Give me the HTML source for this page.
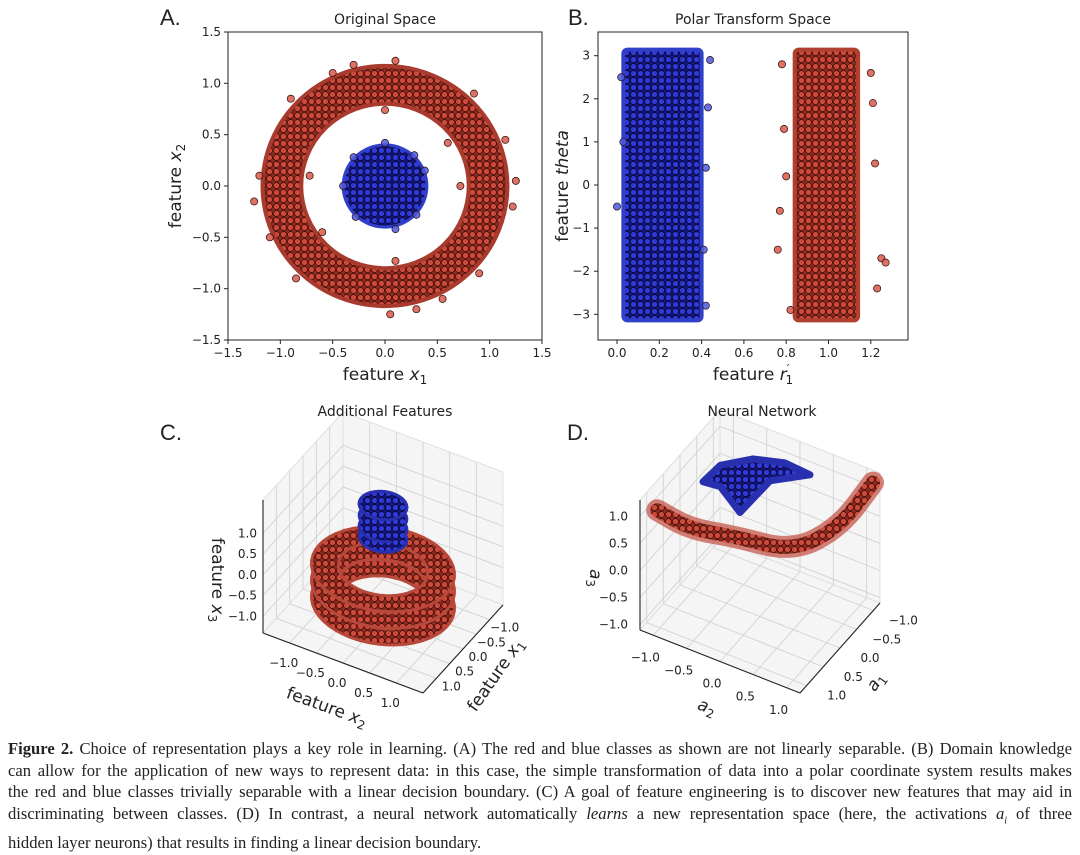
<!DOCTYPE html>
<html><head><meta charset="utf-8">
<style>
body{margin:0;background:#fff;}
#wrap{position:relative;width:1080px;height:855px;overflow:hidden;background:#fff;}
svg{position:absolute;left:0;top:0;}
#cap{position:absolute;left:8px;top:738px;width:1064px;font-family:"Liberation Serif",serif;font-size:16.6px;line-height:21.6px;color:#222;}
#cap div{text-align:justify;text-align-last:justify;white-space:nowrap;}
#cap div.last{text-align-last:left;}
</style></head>
<body>
<div id="wrap">
<svg id="fig" width="1080" height="738" viewBox="0 0 1080 738" font-family="DejaVu Sans, Liberation Sans, sans-serif">
<defs>
<pattern id="redPat" width="7" height="7" patternUnits="userSpaceOnUse">
<rect width="7" height="7" fill="#8e2a20"/>
<circle cx="3.5" cy="3.5" r="3" fill="#cf4a3b" stroke="#3a0e08" stroke-width="0.7"/>
</pattern>
<pattern id="bluePat" width="7" height="7" patternUnits="userSpaceOnUse">
<rect width="7" height="7" fill="#15157f"/>
<circle cx="3.5" cy="3.5" r="3" fill="#2f3ad8" stroke="#08082e" stroke-width="0.7"/>
</pattern>
</defs>
</svg>
<div id="cap">
<div><b>Figure 2.</b> Choice of representation plays a key role in learning. (A) The red and blue classes as shown are not linearly separable. (B) Domain knowledge</div>
<div>can allow for the application of new ways to represent data: in this case, the simple transformation of data into a polar coordinate system results makes</div>
<div>the red and blue classes trivially separable with a linear decision boundary. (C) A goal of feature engineering is to discover new features that may aid in</div>
<div>discriminating between classes. (D) In contrast, a neural network automatically <i>learns</i> a new representation space (here, the activations <i>a<sub style="font-size:10px">i</sub></i> of three</div>
<div class="last">hidden layer neurons) that results in finding a linear decision boundary.</div>
</div>
</div>
<script>
// ---------- data ----------
const aTicks=[-1.5,-1.0,-0.5,0.0,0.5,1.0,1.5];
const aTickLabels=["−1.5","−1.0","−0.5","0.0","0.5","1.0","1.5"];
const ringRadiiA=[0.8,1.17];
const blueRadiusA=[0.4];
const redOutA_x=[1.25,1.22,-1.2,-1.25,0.1,-0.3,0.05,0.3,-0.9,0.85,0.9,-0.85,0.72,-0.72,0,0.1,1.15,-1.1,0.55,-0.5,-0.6,0.6];
const redOutA_y=[0.05,-0.2,0.1,-0.15,1.22,1.18,-1.25,-1.2,0.85,0.9,-0.85,-0.9,0.0,0.1,0.74,-0.73,0.45,-0.5,-1.1,1.1,-0.45,0.42];
const blueOutA_x=[0.38,-0.4,0,0.1,-0.28,0.3,-0.3,0.28];
const blueOutA_y=[0.15,0,0.42,-0.42,-0.3,-0.28,0.28,0.3];

const bXTicks=[0.0,0.2,0.4,0.6,0.8,1.0,1.2];
const bXLabels=["0.0","0.2","0.4","0.6","0.8","1.0","1.2"];
const bYTicks=[3,2,1,0,-1,-2,-3];
const bYLabels=["3","2","1","0","−1","−2","−3"];
const blueBandB=[0.03,0.4];
const redBandB=[0.84,1.14];
const thetaRange=[-3.14,3.14];
const blueOutB_r=[0.02,0.43,0.41,0.0,0.44,0.42,0.03,0.42];
const blueOutB_t=[2.5,1.8,-1.5,-0.5,2.9,0.4,1.0,-2.8];
const redOutB_r=[0.78,0.76,1.25,1.27,1.22,0.8,1.2,0.82,1.23,0.79,1.21,0.77];
const redOutB_t=[2.8,-1.5,-1.7,-1.8,0.5,0.2,2.6,-2.9,-2.4,1.3,1.9,-0.6];

const c3Ticks=[-1.0,-0.5,0.0,0.5,1.0];
const c3Labels=["−1.0","−0.5","0.0","0.5","1.0"];
const ringRadiiC=[0.75,1.2];
const ringZC=[-1.0,-0.6,-0.2];
const blueRadiusC=[0.4];
const blueZC=[0.55,0.8,1.05,1.33];

const redCurveD_a1=[1.0,0.74,0.44,0.175,-0.36,-1.17];
const redCurveD_a2=[-1.04,-0.68,-0.185,0.58,1.02,1.11];
const redCurveD_a3=[1.05,0.7,0.6,0.5,0.8,1.1];
const blueCapD_a1=[0.35,-0.11,-0.49,-0.66,-0.62,-0.19,0.24,0.31];
const blueCapD_a2=[-0.68,-0.65,-0.35,0.04,0.44,0.055,-0.18,-0.44];
const blueCapD_a3=[1.3,1.3,1.3,1.3,1.3,1.3,0.9,1.3];

// ---------- helpers ----------
const NS="http://www.w3.org/2000/svg";
const svg=document.getElementById('fig');
function mk(tag,attrs,parent){const e=document.createElementNS(NS,tag);for(const k in attrs)e.setAttribute(k,attrs[k]);(parent||svg).appendChild(e);return e;}
function txt(s,x,y,size,anchor,parent,rot){const t=mk('text',{x:x,y:y,'font-size':size,'text-anchor':anchor||'middle',fill:'#222'},parent);if(rot!==undefined)t.setAttribute('transform','rotate('+rot+' '+x+' '+y+')');t.textContent=s;return t;}
function dot(x,y,fill,parent){const c=mk('circle',{cx:x,cy:y,r:3.6,fill:fill,'fill-opacity':0.85,stroke:'#2a0c08','stroke-width':0.7},parent);return c;}

// ---------- Panel A ----------
const gA=mk('g',{});


const ax=v=>385+v*104.67, ay=v=>186-v*102.67;
let t=txt('A.',160,25,22,'start',gA);t.setAttribute('font-family','Liberation Sans, sans-serif');

t=txt('Original Space',385,24,14,'middle',gA);

{const ro=ringRadiiA[1],ri=ringRadiiA[0];
const d=`M${ax(ro)},${ay(0)} A${ro*104.67},${ro*102.67} 0 1 0 ${ax(-ro)},${ay(0)} A${ro*104.67},${ro*102.67} 0 1 0 ${ax(ro)},${ay(0)} Z M${ax(ri)},${ay(0)} A${ri*104.67},${ri*102.67} 0 1 1 ${ax(-ri)},${ay(0)} A${ri*104.67},${ri*102.67} 0 1 1 ${ax(ri)},${ay(0)} Z`;
const p=mk('path',{d:d,fill:'url(#redPat)','fill-rule':'evenodd',stroke:'#a83a2e','stroke-width':4},gA);
}
{const r=blueRadiusA[0];const e=mk('ellipse',{cx:ax(0),cy:ay(0),rx:r*104.67,ry:r*102.67,fill:'url(#bluePat)',stroke:'#3040c8','stroke-width':3},gA);
}
redOutA_x.forEach((x,i)=>{const c=dot(ax(x),ay(redOutA_y[i]),'#d9574a',gA);
});
blueOutA_x.forEach((x,i)=>{const c=dot(ax(x),ay(blueOutA_y[i]),'#4a58e0',gA);
});
{const r=mk('rect',{x:ax(-1.5),y:ay(1.5),width:ax(1.5)-ax(-1.5),height:ay(-1.5)-ay(1.5),fill:'none',stroke:'#222','stroke-width':1},gA);
}
aTicks.forEach((v,i)=>{
 mk('line',{x1:ax(v),x2:ax(v),y1:ay(-1.5),y2:ay(-1.5)+4,stroke:'#222'},gA);
 let l=txt(aTickLabels[i],ax(v),ay(-1.5)+17,12,'middle',gA);
 
 mk('line',{x1:ax(-1.5)-4,x2:ax(-1.5),y1:ay(v),y2:ay(v),stroke:'#222'},gA);
 l=txt(aTickLabels[i],ax(-1.5)-7,ay(v)+4,12,'end',gA);
 
});
t=mk('text',{x:385,y:380,'font-size':17,'text-anchor':'middle',fill:'#222'},gA);
t.innerHTML='feature <tspan font-style="italic">x</tspan><tspan font-size="12" dy="4">1</tspan>';

t=mk('text',{x:181,y:186,'font-size':17,'text-anchor':'middle',fill:'#222',transform:'rotate(-90 181 186)'},gA);
t.innerHTML='feature <tspan font-style="italic">x</tspan><tspan font-size="12" dy="4">2</tspan>';


// ---------- Panel B ----------
const gB=mk('g',{});


const bx=v=>617+v*211.5, by=v=>185-v*43.1;
t=txt('B.',568,25,22,'start',gB);t.setAttribute('font-family','Liberation Sans, sans-serif');

t=txt('Polar Transform Space',753,24,14,'middle',gB);

{const r=mk('rect',{x:bx(blueBandB[0]),y:by(thetaRange[1]),width:bx(blueBandB[1])-bx(blueBandB[0]),height:by(thetaRange[0])-by(thetaRange[1]),fill:'url(#bluePat)',stroke:'#3040c8','stroke-width':4,rx:4},gB);
}
{const r=mk('rect',{x:bx(redBandB[0]),y:by(thetaRange[1]),width:bx(redBandB[1])-bx(redBandB[0]),height:by(thetaRange[0])-by(thetaRange[1]),fill:'url(#redPat)',stroke:'#b0402f','stroke-width':4,rx:4},gB);
}
blueOutB_r.forEach((r,i)=>{const c=dot(bx(r),by(blueOutB_t[i]),'#4a58e0',gB);
});
redOutB_r.forEach((r,i)=>{const c=dot(bx(r),by(redOutB_t[i]),'#d9574a',gB);
});
{const r=mk('rect',{x:598,y:32,width:310,height:308,fill:'none',stroke:'#222','stroke-width':1},gB);
}
bXTicks.forEach((v,i)=>{
 mk('line',{x1:bx(v),x2:bx(v),y1:340,y2:344,stroke:'#222'},gB);
 const l=txt(bXLabels[i],bx(v),357,12,'middle',gB);
 });
bYTicks.forEach((v,i)=>{
 mk('line',{x1:594,x2:598,y1:by(v),y2:by(v),stroke:'#222'},gB);
 const l=txt(bYLabels[i],590,by(v)+4,12,'end',gB);
 });
t=mk('text',{x:753,y:380,'font-size':17,'text-anchor':'middle',fill:'#222'},gB);
t.innerHTML='feature <tspan font-style="italic">r</tspan><tspan font-size="12" dy="-7">′</tspan><tspan font-size="12" dx="-4" dy="11">1</tspan>';

t=mk('text',{x:568,y:186,'font-size':17,'text-anchor':'middle',fill:'#222',transform:'rotate(-90 568 186)'},gB);
t.innerHTML='feature <tspan font-style="italic">theta</tspan>';


// ---------- 3D helper ----------
function make3D(cfg){
 return function(a,b,z){
  const s=(b-cfg.bMin)/(cfg.bMax-cfg.bMin), tt=(cfg.aMax-a)/(cfg.aMax-cfg.aMin), u=(z-cfg.zMin)/(cfg.zMax-cfg.zMin);
  return [cfg.o[0]+cfg.ex[0]*s+cfg.ey[0]*tt+cfg.ez[0]*u, cfg.o[1]+cfg.ex[1]*s+cfg.ey[1]*tt+cfg.ez[1]*u];
 };
}
function draw3DFrame(P,cfg,g){
 const {aMin,aMax,bMin,bMax,zMin,zMax}=cfg;
 const pane=(pts,name)=>{const p=mk('polygon',{points:pts.map(q=>q.join(',')).join(' '),fill:'#f5f5f5',stroke:'#e0e0e0'},g);
  };
 pane([P(aMax,bMin,zMin),P(aMin,bMin,zMin),P(aMin,bMin,zMax),P(aMax,bMin,zMax)],'left-pane');
 pane([P(aMin,bMin,zMin),P(aMin,bMax,zMin),P(aMin,bMax,zMax),P(aMin,bMin,zMax)],'back-pane');
 pane([P(aMax,bMin,zMin),P(aMax,bMax,zMin),P(aMin,bMax,zMin),P(aMin,bMin,zMin)],'floor-pane');
 const gl=(p1,p2)=>mk('line',{x1:p1[0],y1:p1[1],x2:p2[0],y2:p2[1],stroke:'#d2d2d2','stroke-width':0.9},g);
 cfg.ticks.forEach(v=>{
  gl(P(aMax,v,zMin),P(aMin,v,zMin)); gl(P(aMin,v,zMin),P(aMin,v,zMax));
  gl(P(v,bMin,zMin),P(v,bMax,zMin)); gl(P(v,bMin,zMin),P(v,bMin,zMax));
  gl(P(aMax,bMin,v),P(aMin,bMin,v)); gl(P(aMin,bMin,v),P(aMin,bMax,v));
 });
 const al=(p1,p2,name)=>{const l=mk('line',{x1:p1[0],y1:p1[1],x2:p2[0],y2:p2[1],stroke:'#222','stroke-width':1.1},g);
  };
 al(P(aMax,bMin,zMin),P(aMax,bMin,zMax),'z-axis-line');
 al(P(aMax,bMin,zMin),P(aMax,bMax,zMin),'front-axis-line');
 al(P(aMax,bMax,zMin),P(aMin,bMax,zMin),'side-axis-line');
}
function ringPath(P,r1,r2,z){
 let d='';const N=48;
 for(let k=0;k<=N;k++){const th=2*Math.PI*k/N;const q=P(r2*Math.cos(th),r2*Math.sin(th),z);d+=(k?'L':'M')+q[0]+','+q[1];}
 d+='Z';
 if(r1>0){for(let k=0;k<=N;k++){const th=-2*Math.PI*k/N;const q=P(r1*Math.cos(th),r1*Math.sin(th),z);d+=(k?'L':'M')+q[0]+','+q[1];}d+='Z';}
 return d;
}

// ---------- Panel C ----------
const gC=mk('g',{});


const cfgC={o:[263,633],ex:[160,60],ey:[80,-88],ez:[0,-133],aMin:-1.5,aMax:1.5,bMin:-1.5,bMax:1.5,zMin:-1.4,zMax:1.8,ticks:c3Ticks};
const PC=make3D(cfgC);
draw3DFrame(PC,cfgC,gC);
t=txt('C.',160,440,22,'start',gC);t.setAttribute('font-family','Liberation Sans, sans-serif');

t=txt('Additional Features',385,416,14,'middle',gC);

ringZC.forEach(z=>{const p=mk('path',{d:ringPath(PC,ringRadiiC[0],ringRadiiC[1],z),fill:'url(#redPat)','fill-rule':'evenodd',stroke:'#b8483a','stroke-width':3,'stroke-linejoin':'round'},gC);
 });
{const q1=PC(0,-blueRadiusC[0],blueZC[0]),q2=PC(0,blueRadiusC[0],blueZC[0]),q3=PC(0,blueRadiusC[0],blueZC[blueZC.length-1]),q4=PC(0,-blueRadiusC[0],blueZC[blueZC.length-1]);
 blueZC.forEach(z=>{const p=mk('path',{d:ringPath(PC,0,blueRadiusC[0],z),fill:'url(#bluePat)',stroke:'#2830b0','stroke-width':3},gC);
  });
 const p=mk('polygon',{points:[q1,q2,q3,q4].map(q=>q.join(',')).join(' '),fill:'url(#bluePat)'},gC);
 
 const top=mk('path',{d:ringPath(PC,0,blueRadiusC[0],blueZC[blueZC.length-1]),fill:'url(#bluePat)',stroke:'#2830b0','stroke-width':3},gC);
 }
c3Ticks.forEach((v,i)=>{
 let q=PC(1.5,-1.5,v);let l=txt(c3Labels[i],q[0]-6,q[1]+4,12,'end',gC);
 
 q=PC(1.5,v,-1.4);l=txt(c3Labels[i],q[0]-6,q[1]+24,12,'middle',gC);
 
 q=PC(v,1.5,-1.4);l=txt(c3Labels[i],q[0]+15,q[1]+12,12,'middle',gC);
 
});
t=mk('text',{x:212,y:580,'font-size':17,'text-anchor':'middle',fill:'#222',transform:'rotate(90 212 580)'},gC);
t.innerHTML='feature <tspan font-style="italic">x</tspan><tspan font-size="12" dy="4">3</tspan>';

t=mk('text',{x:325,y:712,'font-size':17,'text-anchor':'middle',fill:'#222',transform:'rotate(20 325 712)'},gC);
t.innerHTML='feature <tspan font-style="italic">x</tspan><tspan font-size="12" dy="4">2</tspan>';

t=mk('text',{x:500,y:678,'font-size':17,'text-anchor':'middle',fill:'#222',transform:'rotate(-55 500 678)'},gC);
t.innerHTML='feature <tspan font-style="italic">x</tspan><tspan font-size="12" dy="4">1</tspan>';


// ---------- Panel D ----------
const gD=mk('g',{});


const cfgD={o:[640,630],ex:[160,63],ey:[80,-90],ez:[0,-130],aMin:-1.2,aMax:1.2,bMin:-1.2,bMax:1.2,zMin:-1.1,zMax:1.3,ticks:c3Ticks};
const PD=make3D(cfgD);
draw3DFrame(PD,cfgD,gD);
t=txt('D.',567,440,22,'start',gD);t.setAttribute('font-family','Liberation Sans, sans-serif');

t=txt('Neural Network',762,416,14,'middle',gD);

{const pts=redCurveD_a1.map((a,i)=>PD(a,redCurveD_a2[i],redCurveD_a3[i]));
 let d='M'+pts[0].join(',');
 for(let i=1;i<pts.length;i++){const m=[(pts[i-1][0]+pts[i][0])/2,(pts[i-1][1]+pts[i][1])/2];d+=' Q'+pts[i-1].join(',')+' '+m.join(',');}
 d+=' L'+pts[pts.length-1].join(',');
 const o=mk('path',{d:d,fill:'none',stroke:'#c24c3e','stroke-width':22,'stroke-linecap':'round','stroke-linejoin':'round','stroke-opacity':0.7},gD);
 
 const p=mk('path',{d:d,fill:'none',stroke:'url(#redPat)','stroke-width':14,'stroke-linecap':'round','stroke-linejoin':'round'},gD);
 }
{const pts=blueCapD_a1.map((a,i)=>PD(a,blueCapD_a2[i],blueCapD_a3[i]));
 const p=mk('polygon',{points:pts.map(q=>q.join(',')).join(' '),fill:'url(#bluePat)',stroke:'#2830b0','stroke-width':7,'stroke-linejoin':'round'},gD);
 }
c3Ticks.forEach((v,i)=>{
 let q=PD(1.2,-1.2,v);let l=txt(c3Labels[i],q[0]-12,q[1]+4,12,'end',gD);
 
 q=PD(1.2,v,-1.1);l=txt(c3Labels[i],q[0]-8,q[1]+26,12,'middle',gD);
 
 q=PD(v,1.2,-1.1);l=txt(c3Labels[i],q[0]+30,q[1]+14,12,'middle',gD);
 
});
t=mk('text',{x:590,y:578,'font-size':17,'text-anchor':'middle',fill:'#222',transform:'rotate(90 590 578)'},gD);
t.innerHTML='<tspan font-style="italic">a</tspan><tspan font-size="12" dy="4">3</tspan>';

t=mk('text',{x:705,y:712,'font-size':17,'text-anchor':'middle',fill:'#222',transform:'rotate(20 705 712)'},gD);
t.innerHTML='<tspan font-style="italic">a</tspan><tspan font-size="12" dy="4">2</tspan>';

t=mk('text',{x:880,y:685,'font-size':17,'text-anchor':'middle',fill:'#222',transform:'rotate(-55 880 685)'},gD);
t.innerHTML='<tspan font-style="italic">a</tspan><tspan font-size="12" dy="4">1</tspan>';

</script>
</body></html>
